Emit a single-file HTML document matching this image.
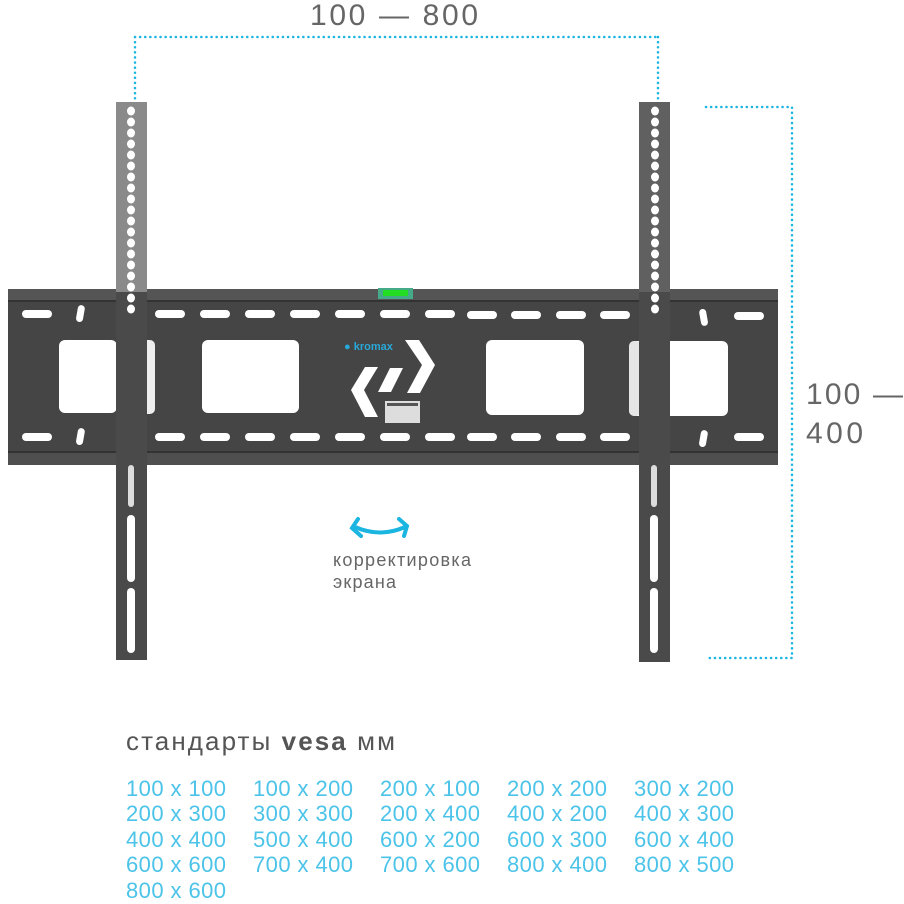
<!DOCTYPE html>
<html><head><meta charset="utf-8"><style>
html,body{margin:0;padding:0;background:#fff;width:904px;height:904px;overflow:hidden}
</style></head><body>
<svg width="904" height="904" viewBox="0 0 904 904" xmlns="http://www.w3.org/2000/svg" font-family="Liberation Sans, sans-serif">
<defs>
<mask id="pm">
<rect x="0" y="0" width="904" height="904" fill="#fff"/>
<g fill="#000">
<rect x="59" y="340" width="58" height="73" rx="6"/>
<rect x="202" y="340" width="97" height="73" rx="6"/>
<rect x="486" y="340" width="98" height="75" rx="6"/>
<rect x="629" y="341" width="99" height="75" rx="6"/>
<g>
<rect x="22" y="310" width="30" height="8" rx="4"/>
<rect x="155" y="310" width="30" height="8" rx="4"/>
<rect x="200" y="310" width="30" height="8" rx="4"/>
<rect x="245" y="310" width="30" height="8" rx="4"/>
<rect x="290" y="310" width="30" height="8" rx="4"/>
<rect x="335" y="310" width="30" height="8" rx="4"/>
<rect x="380" y="310" width="30" height="8" rx="4"/>
<rect x="425" y="310" width="30" height="8" rx="4"/>
<rect x="467" y="311" width="30" height="8" rx="4"/>
<rect x="511" y="311" width="30" height="8" rx="4"/>
<rect x="556" y="311" width="30" height="8" rx="4"/>
<rect x="600" y="311" width="30" height="8" rx="4"/>
<rect x="734" y="312" width="30" height="8" rx="4"/>
<rect x="77" y="305" width="7" height="17" rx="3.5" transform="rotate(10 80 313)"/>
<rect x="700" y="309" width="7" height="17" rx="3.5" transform="rotate(-10 703 317)"/>
</g>
<g transform="translate(0,123)">
<rect x="22" y="310" width="30" height="8" rx="4"/>
<rect x="155" y="310" width="30" height="8" rx="4"/>
<rect x="200" y="310" width="30" height="8" rx="4"/>
<rect x="245" y="310" width="30" height="8" rx="4"/>
<rect x="290" y="310" width="30" height="8" rx="4"/>
<rect x="335" y="310" width="30" height="8" rx="4"/>
<rect x="380" y="310" width="30" height="8" rx="4"/>
<rect x="425" y="310" width="30" height="8" rx="4"/>
<rect x="467" y="310" width="30" height="8" rx="4"/>
<rect x="511" y="310" width="30" height="8" rx="4"/>
<rect x="556" y="310" width="30" height="8" rx="4"/>
<rect x="600" y="310" width="30" height="8" rx="4"/>
<rect x="734" y="310" width="30" height="8" rx="4"/>
<rect x="77" y="305" width="7" height="17" rx="3.5" transform="rotate(10 80 313)"/>
<rect x="700" y="307" width="7" height="17" rx="3.5" transform="rotate(10 703 315)"/>
</g>
</g>
</mask>
</defs>

<g stroke="#1ab5e0" stroke-width="2.5" stroke-dasharray="0.1 5" stroke-linecap="round" fill="none">
<path d="M135 37 H658 M135 37 V100 M658 37 V100"/>
<path d="M706 107 H792 V658 H706"/>
</g>
<text x="394" y="25" font-size="30" fill="#666" text-anchor="middle" textLength="168">100 — 800</text>
<text x="806" y="404" font-size="30" fill="#666" textLength="97">100 —</text>
<text x="806" y="443" font-size="30" fill="#666" textLength="57">400</text>

<g mask="url(#pm)">
<rect x="8" y="289" width="770" height="176" fill="#454545"/>
<rect x="8" y="289" width="770" height="11" fill="#555"/>
<rect x="8" y="300" width="770" height="2" fill="#333"/>
<rect x="8" y="452" width="770" height="13" fill="#4f4f4f"/>
<rect x="8" y="451" width="770" height="2" fill="#333"/>
</g>
<rect x="140" y="340" width="15" height="74" rx="5" fill="#eee"/>
<rect x="629" y="341" width="12" height="75" rx="5" fill="#e6e6e6"/>
<rect x="378" y="288" width="35" height="11" fill="#4a8"/>
<rect x="383" y="290" width="25" height="6" fill="#2d2"/>
<text x="344" y="350" font-size="11" fill="#28a8d8" font-weight="bold">● kromax</text>
<g fill="#fff">
<polygon points="365,367 378,367 364,390 378,417 365,417 351,390"/>
<polygon points="390,368 403,368 391,392 378,392"/>
<polygon points="405,340 419,340 435,365 420,393 407,393 422,365"/>
</g>
<rect x="385" y="401" width="35" height="22" fill="#ddd"/>
<rect x="387" y="403" width="31" height="3" fill="#555"/>

<g>
<rect x="116" y="102" width="31" height="558" fill="#4a4a4a"/>
<rect x="116" y="102" width="31" height="190" fill="#8a8a8a"/>
<rect x="639" y="102" width="31" height="560" fill="#4a4a4a"/>
<rect x="639" y="102" width="31" height="190" fill="#606060"/>
<g fill="#fff">
<g id="holes">
<ellipse cx="131" cy="111" rx="4" ry="4.5"/><ellipse cx="131" cy="122" rx="4" ry="4.5"/><ellipse cx="131" cy="133" rx="4" ry="4.5"/><ellipse cx="131" cy="144" rx="4" ry="4.5"/><ellipse cx="131" cy="155" rx="4" ry="4.5"/><ellipse cx="131" cy="166" rx="4" ry="4.5"/><ellipse cx="131" cy="177" rx="4" ry="4.5"/><ellipse cx="131" cy="188" rx="4" ry="4.5"/><ellipse cx="131" cy="199" rx="4" ry="4.5"/><ellipse cx="131" cy="210" rx="4" ry="4.5"/><ellipse cx="131" cy="221" rx="4" ry="4.5"/><ellipse cx="131" cy="232" rx="4" ry="4.5"/><ellipse cx="131" cy="243" rx="4" ry="4.5"/><ellipse cx="131" cy="254" rx="4" ry="4.5"/><ellipse cx="131" cy="265" rx="4" ry="4.5"/><ellipse cx="131" cy="276" rx="4" ry="4.5"/><ellipse cx="131" cy="287" rx="4" ry="4.5"/><ellipse cx="131" cy="298" rx="4" ry="4.5"/><ellipse cx="131" cy="309" rx="4" ry="4.5"/>
</g>
<use href="#holes" transform="translate(524,0)"/>
<rect x="127" y="515" width="8" height="67" rx="4"/>
<rect x="127" y="588" width="8" height="65" rx="4"/>
<rect x="650" y="515" width="8" height="67" rx="4"/>
<rect x="650" y="588" width="8" height="65" rx="4"/>
<rect x="128" y="465" width="6" height="42" rx="3" fill="#ddd"/>
<rect x="651" y="465" width="6" height="42" rx="3" fill="#ddd"/>
</g>
</g>

<path d="M355 527 Q380 538 405 527" stroke="#1ab5e0" stroke-width="4" fill="none" stroke-linecap="round"/>
<path d="M358 519 L352 528 L361 536" stroke="#1ab5e0" stroke-width="4" fill="none" stroke-linecap="round"/>
<path d="M399 519 L407 526 L404 536" stroke="#1ab5e0" stroke-width="4" fill="none" stroke-linecap="round"/>
<text x="333" y="566" font-size="18" fill="#666" textLength="138">корректировка</text>
<text x="333" y="588" font-size="18" fill="#666" textLength="63">экрана</text>

<text x="126" y="750" font-size="26" fill="#555" textLength="269">стандарты <tspan font-weight="bold">vesa</tspan> мм</text>
<g font-size="22" fill="#4cc3e8">
<text x="126" y="796" textLength="100">100 x 100</text><text x="253" y="796" textLength="100">100 x 200</text><text x="380" y="796" textLength="100">200 x 100</text><text x="507" y="796" textLength="100">200 x 200</text><text x="634" y="796" textLength="100">300 x 200</text>
<text x="126" y="821" textLength="100">200 x 300</text><text x="253" y="821" textLength="100">300 x 300</text><text x="380" y="821" textLength="100">200 x 400</text><text x="507" y="821" textLength="100">400 x 200</text><text x="634" y="821" textLength="100">400 x 300</text>
<text x="126" y="847" textLength="100">400 x 400</text><text x="253" y="847" textLength="100">500 x 400</text><text x="380" y="847" textLength="100">600 x 200</text><text x="507" y="847" textLength="100">600 x 300</text><text x="634" y="847" textLength="100">600 x 400</text>
<text x="126" y="872" textLength="100">600 x 600</text><text x="253" y="872" textLength="100">700 x 400</text><text x="380" y="872" textLength="100">700 x 600</text><text x="507" y="872" textLength="100">800 x 400</text><text x="634" y="872" textLength="100">800 x 500</text>
<text x="126" y="898" textLength="100">800 x 600</text>
</g>
</svg>
</body></html>
